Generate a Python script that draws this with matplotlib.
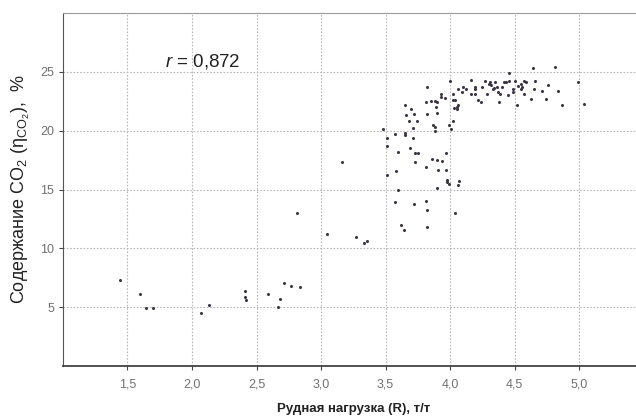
import matplotlib.pyplot as plt
from matplotlib.ticker import FuncFormatter

plt.rcParams['font.family'] = ['Liberation Sans', 'DejaVu Sans']
plt.rcParams['mathtext.fontset'] = 'custom'
plt.rcParams['mathtext.rm'] = 'Liberation Sans'
plt.rcParams['mathtext.it'] = 'Liberation Sans:italic'

# ore load R, t/t
ore_load = [
    1.44, 1.60, 1.64, 1.70, 2.07, 2.13, 2.41, 2.41, 2.42, 2.59, 2.68, 2.67,
    2.71, 2.77, 2.84, 2.81, 3.05, 3.27, 3.33, 3.36, 3.57, 3.72, 3.81, 3.82,
    4.04, 3.62, 3.64, 3.82, 3.16, 3.48, 3.51, 3.51, 3.51, 3.57, 3.60, 3.58,
    3.60, 3.65, 3.66, 3.70, 3.72, 3.68, 3.71, 3.65, 3.65, 3.71, 3.74, 3.69,
    3.73, 3.75, 3.73, 3.81, 3.82, 3.81, 3.82, 3.85, 3.88, 3.89, 3.90, 3.90,
    3.87, 3.88, 3.88, 3.86, 3.90, 3.94, 3.91, 3.97, 3.97, 3.90, 3.93, 3.93,
    3.96, 3.98, 3.98, 3.99, 4.07, 4.06, 3.99, 4.01, 4.02, 4.00, 4.02, 4.02,
    4.04, 4.03, 4.05, 4.05, 4.06, 4.06, 4.09, 4.10, 4.12, 4.16, 4.16, 4.19,
    4.19, 4.19, 4.22, 4.24, 4.25, 4.27, 4.29, 4.30, 4.31, 4.32, 4.33, 4.35,
    4.34, 4.36, 4.37, 4.38, 4.39, 4.40, 4.42, 4.43, 4.45, 4.46, 4.46, 4.49,
    4.50, 4.49, 4.52, 4.53, 4.55, 4.55, 4.56, 4.57, 4.59, 4.57, 4.63, 4.64,
    4.65, 4.66, 4.71, 4.74, 4.76, 4.81, 4.84, 4.87, 4.99, 5.04,
]
# CO2 content, %
co2 = [
    7.3, 6.1, 4.9, 4.9, 4.5, 5.2, 6.4, 5.9, 5.6, 6.1, 5.7, 5.0,
    7.1, 6.8, 6.7, 13.0, 11.2, 11.0, 10.5, 10.6, 13.9, 13.8, 14.0, 13.3,
    13.0, 12.0, 11.6, 11.8, 17.3, 20.1, 19.4, 18.7, 16.2, 19.7, 18.2, 16.6,
    15.0, 22.2, 21.3, 21.8, 21.4, 20.8, 20.2, 19.8, 19.6, 19.4, 20.8, 18.5,
    18.1, 18.1, 17.3, 16.9, 23.7, 22.4, 21.4, 22.5, 22.5, 22.0, 22.4, 21.5,
    20.5, 20.3, 20.0, 17.6, 17.5, 17.4, 16.7, 18.1, 16.7, 15.1, 23.1, 22.9,
    22.8, 15.8, 15.6, 15.5, 15.7, 15.4, 20.5, 20.1, 20.8, 24.2, 23.1, 22.6,
    22.6, 21.9, 21.8, 22.0, 22.2, 23.5, 23.3, 23.7, 23.5, 24.3, 23.1, 23.5,
    23.1, 23.7, 22.6, 22.4, 23.7, 24.2, 23.1, 24.0, 24.1, 23.9, 23.5, 24.1,
    23.6, 23.7, 23.3, 22.4, 23.1, 23.7, 24.1, 24.1, 23.0, 24.2, 24.9, 23.5,
    24.2, 23.3, 22.2, 23.8, 23.5, 24.0, 23.7, 24.2, 24.1, 23.1, 22.7, 25.3,
    23.5, 24.2, 23.4, 22.7, 23.9, 25.4, 23.4, 22.2, 24.1, 22.3,
]

x_ticks = [1.5, 2.0, 2.5, 3.0, 3.5, 4.0, 4.5, 5.0]
y_ticks = [5, 10, 15, 20, 25]
r_text = '$\\it{r}$ = 0,872'

fig = plt.figure(figsize=(6.36, 4.17), dpi=100)
ax = fig.add_axes([0.099, 0.122, 0.913, 0.847])

ax.plot(ore_load, co2, linestyle='none', marker='o', markersize=2.2,
        color='#3b3344', markeredgewidth=0)

ax.set_xlim(1.0, 5.5)
ax.set_ylim(0, 30)
ax.set_xticks(x_ticks)
ax.set_yticks(y_ticks)
comma = FuncFormatter(lambda v, p: f'{v:.1f}'.replace('.', ','))
ax.xaxis.set_major_formatter(comma)
ax.grid(True, linestyle=(0, (1.5, 1.5)), color='#b8b8b8', linewidth=0.8)

ax.tick_params(axis='both', colors='#444444', labelcolor='#707070',
               labelsize=9, length=3, width=0.8)
ax.tick_params(axis='x', pad=6)
for side in ['top', 'right']:
    ax.spines[side].set_color('#9a9a9a')
ax.spines['left'].set_color('#555555')
ax.spines['bottom'].set_color('#333333')
ax.spines['bottom'].set_linewidth(1.2)

ax.set_xlabel('Рудная нагрузка (R), т/т', fontsize=9.5, color='#222222',
              fontweight='bold', labelpad=9)
ax.set_ylabel('Содержание CO$_2$ (η$_{\\mathregular{CO_2}}$),  %',
              fontsize=13, color='#222222', labelpad=6)

ax.text(1.79, 25.9, r_text, fontsize=13.5, va='center', color='#222222')

fig.savefig('out.png', dpi=100)
